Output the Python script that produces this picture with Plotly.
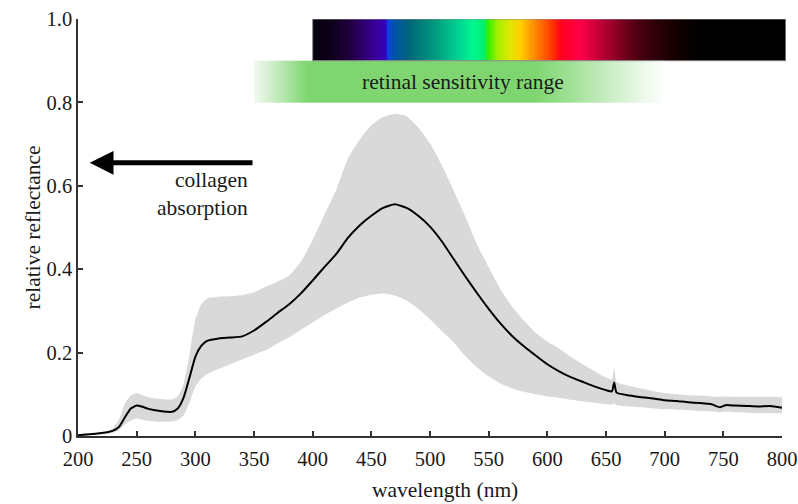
import numpy as np
import plotly.graph_objects as go

# ---------------- data ----------------
wavelength = [200, 210, 220, 225, 230, 235, 240, 245, 250, 255, 260, 270, 280, 285, 290, 295,
              300, 305, 310, 320, 330, 340, 350, 360, 370, 380, 390, 400, 410, 420, 430, 440,
              450, 460, 470, 480, 490, 500, 510, 520, 530, 540, 550, 560, 570, 580, 590, 600,
              610, 620, 630, 640, 650, 655, 657, 659, 670, 680, 690, 700, 710, 720, 730, 740,
              747, 752, 760, 770, 780, 790, 800]

mean_reflectance = [0.002, 0.004, 0.007, 0.009, 0.013, 0.022, 0.045, 0.066, 0.073, 0.070, 0.065,
                    0.060, 0.058, 0.066, 0.092, 0.140, 0.190, 0.216, 0.228, 0.234, 0.236, 0.239,
                    0.253, 0.273, 0.295, 0.316, 0.342, 0.373, 0.405, 0.436, 0.475, 0.505, 0.528,
                    0.547, 0.556, 0.547, 0.528, 0.502, 0.467, 0.425, 0.383, 0.343, 0.305, 0.270,
                    0.240, 0.215, 0.193, 0.172, 0.155, 0.141, 0.130, 0.119, 0.110, 0.107, 0.128,
                    0.104, 0.097, 0.093, 0.090, 0.086, 0.084, 0.081, 0.079, 0.076, 0.069, 0.074,
                    0.073, 0.072, 0.071, 0.072, 0.068]

upper_bound = [0.002, 0.004, 0.008, 0.012, 0.020, 0.040, 0.078, 0.097, 0.103, 0.098, 0.093,
               0.089, 0.088, 0.095, 0.125, 0.195, 0.278, 0.316, 0.330, 0.334, 0.335, 0.338,
               0.345, 0.358, 0.370, 0.385, 0.418, 0.470, 0.530, 0.590, 0.665, 0.710, 0.745,
               0.765, 0.773, 0.767, 0.740, 0.702, 0.650, 0.590, 0.527, 0.460, 0.405, 0.352,
               0.310, 0.277, 0.248, 0.226, 0.210, 0.190, 0.172, 0.156, 0.140, 0.135, 0.165,
               0.130, 0.120, 0.114, 0.108, 0.103, 0.100, 0.098, 0.097, 0.095, 0.094, 0.095,
               0.094, 0.094, 0.094, 0.094, 0.093]

lower_bound = [0.000, 0.002, 0.004, 0.005, 0.008, 0.014, 0.028, 0.037, 0.042, 0.039, 0.036,
               0.034, 0.035, 0.038, 0.050, 0.080, 0.118, 0.138, 0.148, 0.161, 0.172, 0.184,
               0.195, 0.206, 0.222, 0.237, 0.255, 0.272, 0.290, 0.305, 0.320, 0.332, 0.339,
               0.342, 0.337, 0.325, 0.305, 0.280, 0.252, 0.225, 0.192, 0.165, 0.143, 0.126,
               0.114, 0.106, 0.100, 0.095, 0.092, 0.087, 0.083, 0.080, 0.076, 0.075, 0.078,
               0.074, 0.071, 0.069, 0.066, 0.064, 0.063, 0.062, 0.060, 0.059, 0.057, 0.058,
               0.057, 0.056, 0.055, 0.055, 0.054]

x_ticks = [200, 250, 300, 350, 400, 450, 500, 550, 600, 650, 700, 750, 800]
y_ticks = [0, 0.2, 0.4, 0.6, 0.8, 1.0]
y_tick_labels = ["0", "0.2", "0.4", "0.6", "0.8", "1.0"]

# visible-spectrum colour bar (wavelength stops and colours)
spectrum_wl = [400, 415, 432, 455, 462, 464, 469, 483, 506, 523, 537, 546, 549.5, 557, 568,
               577, 588, 600, 605, 612, 628, 645, 662, 679, 696, 713, 730, 803.4]
spectrum_colors = ["#06000e", "#0c0018", "#220040", "#3c00a0", "#3200b8", "#1040e8", "#0052a8",
                   "#006878", "#00a080", "#00d090", "#00f890", "#00f070", "#30f000", "#a0f000",
                   "#e0e800", "#ffd000", "#ff9000", "#ff5000", "#ff3000", "#ff0020", "#ff0048",
                   "#c00038", "#800020", "#480010", "#280008", "#100000", "#000000", "#000000"]
spectrum_range = [0.9, 1.0]

# retinal sensitivity band
retina_wl = [350, 365, 380, 395, 590, 620, 650, 680, 700]
retina_colors = ["#f2faf0", "#cfeeca", "#a6e29d", "#7fd671", "#7fd671", "#a0e096", "#c6ecc0",
                 "#eaf8e8", "#ffffff"]
retina_range = [0.8, 0.9]

# ---------------- figure ----------------
FONT = "Liberation Serif, Times New Roman, serif"
TXT = "#1a1a1a"
TEXT_SIZE = 21.5


def scale_from(stops, colors):
    lo, hi = stops[0], stops[-1]
    return [[(w - lo) / (hi - lo), c] for w, c in zip(stops, colors)]


def gradient_trace(stops, colors, yr):
    edges = np.arange(stops[0], stops[-1] + 0.01, 1.0)
    if edges[-1] < stops[-1]:
        edges = np.append(edges, stops[-1])
    centers = (edges[:-1] + edges[1:]) / 2
    return go.Heatmap(x=edges, y=yr, z=[centers], zmin=stops[0], zmax=stops[-1],
                      colorscale=scale_from(stops, colors), showscale=False,
                      hoverinfo="skip", xaxis="x2", yaxis="y")


fig = go.Figure()
fig.add_trace(gradient_trace(spectrum_wl, spectrum_colors, spectrum_range))
fig.add_trace(gradient_trace(retina_wl, retina_colors, retina_range))

fig.add_trace(go.Scatter(x=wavelength, y=lower_bound, mode="lines",
                         line=dict(width=0, color="#d9d9d9", shape="spline", smoothing=0.5),
                         hoverinfo="skip", showlegend=False))
fig.add_trace(go.Scatter(x=wavelength, y=upper_bound, mode="lines", fill="tonexty",
                         fillcolor="#d9d9d9",
                         line=dict(width=0, color="#d9d9d9", shape="spline", smoothing=0.5),
                         hoverinfo="skip", showlegend=False))
fig.add_trace(go.Scatter(x=wavelength, y=mean_reflectance, mode="lines",
                         line=dict(width=2, color="#000000", shape="spline", smoothing=0.5),
                         showlegend=False))

W, H = 798, 504
ML, MR, MT, MB = 78, 12, 19, 68
plot_w = W - ML - MR
px_per_nm = (782 - 78) / 600.0
x2_max = 200 + plot_w / px_per_nm
main_dom = (782 - 78) / plot_w

fig.add_shape(type="rect", xref="x2", yref="y", x0=spectrum_wl[0], x1=x2_max,
              y0=spectrum_range[0], y1=spectrum_range[1], line=dict(color="#8a8a8a", width=1))

fig.add_annotation(x=210, y=0.655, ax=350, ay=0.655, xref="x", yref="y", axref="x", ayref="y",
                   text="", showarrow=True, arrowhead=2, arrowsize=0.95, arrowwidth=5,
                   arrowcolor="#000000")
fig.add_annotation(x=347, y=0.58, xref="x", yref="y", text="collagen<br>absorption",
                   showarrow=False, xanchor="right", align="right",
                   font=dict(family=FONT, size=TEXT_SIZE, color=TXT))
fig.add_annotation(x=528, y=0.85, xref="x", yref="y", text="retinal sensitivity range",
                   showarrow=False, font=dict(family=FONT, size=TEXT_SIZE, color=TXT))
fig.add_annotation(x=(445 - ML) / plot_w, y=-(490 - 436) / 417.0, xref="paper", yref="paper",
                   text="wavelength (nm)", showarrow=False, yanchor="middle",
                   font=dict(family=FONT, size=TEXT_SIZE, color=TXT))
fig.add_annotation(x=(18 - ML) / plot_w, y=0.5, xref="paper", yref="paper",
                   text="relative reflectance", showarrow=False, textangle=-90,
                   font=dict(family=FONT, size=TEXT_SIZE, color=TXT))

axis_common = dict(showgrid=False, zeroline=False, showline=True, linecolor="#333333",
                   linewidth=1.5, ticks="inside", ticklen=5, tickwidth=1.5, tickcolor="#333333",
                   automargin=False, tickfont=dict(family=FONT, size=20.5, color=TXT))

fig.update_layout(
    width=W, height=H, margin=dict(l=ML, r=MR, t=MT, b=MB, autoexpand=False),
    paper_bgcolor="white", plot_bgcolor="rgba(0,0,0,0)", showlegend=False,
    xaxis=dict(range=[200, 800], domain=[0, main_dom], tickvals=x_ticks,
               ticklabelstandoff=4, **axis_common),
    xaxis2=dict(range=[200, x2_max], domain=[0, 1], anchor="y", visible=False),
    yaxis=dict(range=[0, 1.0], tickvals=y_ticks, ticktext=y_tick_labels, **axis_common),
)

fig.write_html("out.html", config={"displayModeBar": False},
               post_script="document.body.style.margin='0';")
